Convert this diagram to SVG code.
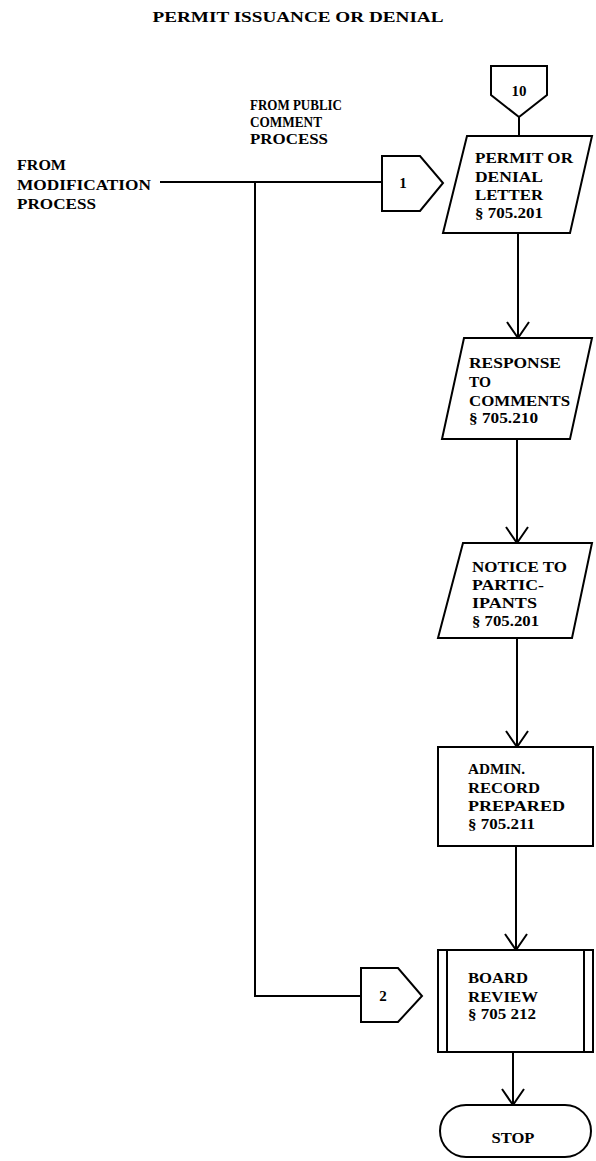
<svg xmlns="http://www.w3.org/2000/svg" width="596" height="1161" viewBox="0 0 596 1161">
<style>
.s{fill:#fff;stroke:#000;stroke-width:2;stroke-linejoin:miter}
.l{fill:none;stroke:#000;stroke-width:2}
text{font-family:"Liberation Serif","Times New Roman",serif;font-weight:bold;font-size:15px;fill:#000}
.c{text-anchor:middle}
</style>
<rect width="596" height="1161" fill="#fff"/>
<text x="298" y="22" class="c" textLength="291" lengthAdjust="spacingAndGlyphs">PERMIT ISSUANCE OR DENIAL</text>
<g id="label-public">
<text x="250" y="110" textLength="92" lengthAdjust="spacingAndGlyphs">FROM PUBLIC</text>
<text x="250" y="127" textLength="72" lengthAdjust="spacingAndGlyphs">COMMENT</text>
<text x="250" y="144" textLength="78" lengthAdjust="spacingAndGlyphs">PROCESS</text>
</g>
<g id="label-modification">
<text x="17" y="170" textLength="49" lengthAdjust="spacingAndGlyphs">FROM</text>
<text x="17" y="190" textLength="134" lengthAdjust="spacingAndGlyphs">MODIFICATION</text>
<text x="17" y="209" textLength="79" lengthAdjust="spacingAndGlyphs">PROCESS</text>
</g>
<g id="connectors">
<polyline class="l" points="160,182 382,182"/>
<polyline class="l" points="255,182 255,996 361,996"/>
<line class="l" x1="519" y1="117" x2="519" y2="136"/>
<line class="l" x1="518" y1="233" x2="518" y2="338"/>
<polyline class="l" points="507,322 518,338 529,322"/>
<line class="l" x1="517" y1="439" x2="517" y2="543"/>
<polyline class="l" points="506,527 517,543 528,527"/>
<line class="l" x1="517" y1="638" x2="517" y2="747"/>
<polyline class="l" points="506,731 517,747 528,731"/>
<line class="l" x1="516" y1="846" x2="516" y2="950"/>
<polyline class="l" points="505,934 516,950 527,934"/>
<line class="l" x1="513" y1="1052" x2="513" y2="1105"/>
<polyline class="l" points="502,1089 513,1105 524,1089"/>
</g>
<g id="off-10">
<polygon class="s" points="491,66 547,66 547,95 519,117 491,95"/>
<text x="519" y="96" class="c">10</text>
</g>
<g id="on-1">
<polygon class="s" points="382,156 420,156 443,183 420,211 382,211"/>
<text x="403" y="188" class="c">1</text>
</g>
<g id="on-2">
<polygon class="s" points="361,968 398,968 422,996 398,1022 361,1022"/>
<text x="383" y="1001" class="c">2</text>
</g>
<g id="permit-letter">
<polygon class="s" points="467,136 592,136 570,233 443,233"/>
<text x="475" y="163" textLength="98" lengthAdjust="spacingAndGlyphs">PERMIT OR</text>
<text x="475" y="182" textLength="68" lengthAdjust="spacingAndGlyphs">DENIAL</text>
<text x="475" y="200" textLength="68" lengthAdjust="spacingAndGlyphs">LETTER</text>
<text x="475" y="218" textLength="68" lengthAdjust="spacingAndGlyphs">§ 705.201</text>
</g>
<g id="response">
<polygon class="s" points="464,338 592,338 570,439 442,439"/>
<text x="469" y="368" textLength="92" lengthAdjust="spacingAndGlyphs">RESPONSE</text>
<text x="469" y="387" textLength="22" lengthAdjust="spacingAndGlyphs">TO</text>
<text x="469" y="406" textLength="101" lengthAdjust="spacingAndGlyphs">COMMENTS</text>
<text x="469" y="423" textLength="69" lengthAdjust="spacingAndGlyphs">§ 705.210</text>
</g>
<g id="notice">
<polygon class="s" points="463,543 592,543 572,638 438,638"/>
<text x="472" y="572" textLength="95" lengthAdjust="spacingAndGlyphs">NOTICE TO</text>
<text x="472" y="590" textLength="72" lengthAdjust="spacingAndGlyphs">PARTIC-</text>
<text x="472" y="608" textLength="65" lengthAdjust="spacingAndGlyphs">IPANTS</text>
<text x="472" y="626" textLength="67" lengthAdjust="spacingAndGlyphs">§ 705.201</text>
</g>
<g id="admin-record">
<rect class="s" x="438" y="747" width="155" height="99"/>
<text x="468" y="774" textLength="57" lengthAdjust="spacingAndGlyphs">ADMIN.</text>
<text x="468" y="793" textLength="72" lengthAdjust="spacingAndGlyphs">RECORD</text>
<text x="468" y="811" textLength="97" lengthAdjust="spacingAndGlyphs">PREPARED</text>
<text x="468" y="829" textLength="67" lengthAdjust="spacingAndGlyphs">§ 705.211</text>
</g>
<g id="board-review">
<rect class="s" x="438" y="950" width="155" height="102"/>
<line class="l" x1="447" y1="950" x2="447" y2="1052"/>
<line class="l" x1="584" y1="950" x2="584" y2="1052"/>
<text x="468" y="983" textLength="60" lengthAdjust="spacingAndGlyphs">BOARD</text>
<text x="468" y="1002" textLength="70" lengthAdjust="spacingAndGlyphs">REVIEW</text>
<text x="468" y="1019" textLength="68" lengthAdjust="spacingAndGlyphs">§ 705 212</text>
</g>
<g id="stop">
<rect class="s" x="440" y="1105" width="151" height="52" rx="26" ry="26"/>
<text x="513" y="1143" class="c" textLength="43" lengthAdjust="spacingAndGlyphs">STOP</text>
</g>
</svg>
